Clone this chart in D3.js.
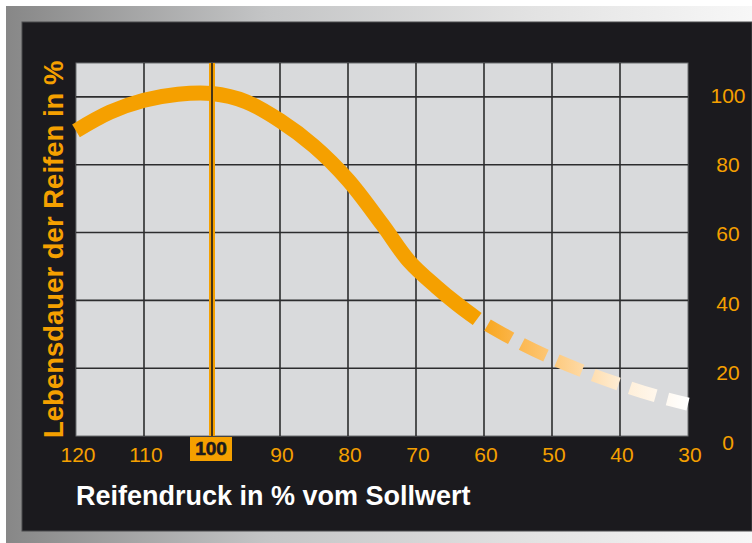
<!DOCTYPE html>
<html>
<head>
<meta charset="utf-8">
<script src="https://cdn.jsdelivr.net/npm/d3@7"></script>
<style>
    body { margin: 0; background: #fff; }
    svg { display: block; font-family: "Liberation Sans", Arial, sans-serif; }
</style>
</head>
<body>
<div id="chart"></div>
<script>
// tyre pressure (% of nominal) vs. tyre life (%)
var pressureSolid = [120, 115, 110, 105, 100, 95, 90, 85, 80, 75, 71, 67, 64, 61];
var lifeSolid = [90, 95.5, 99, 100.8, 101, 98.6, 93, 85.5, 75.5, 62.5, 51.5, 44, 39, 34.5];

// the fading, dashed continuation
var pressureFade = [61, 55, 50, 45, 40, 35, 30];
var lifeFade = [34.5, 27.7, 22.9, 18.8, 15.2, 12, 9.4];
var fadeColors = ["#f7a415", "#fbb447", "#fdc674", "#fed9a4", "#feecd2", "#fff6ea", "#ffffff"];

var xTicks = [120, 110, 90, 80, 70, 60, 50, 40, 30];
var yTicks = [0, 20, 40, 60, 80, 100];
var nominal = 100;

(function () {
    var W = 752, H = 543;
    var orange = "#f5a000";

    var svg = d3.select("#chart")
        .append("svg")
        .attr("width", W)
        .attr("height", H);

    var defs = svg.append("defs");

    var frameGrad = defs.append("linearGradient")
        .attr("id", "frame")
        .attr("x1", "0%").attr("x2", "100%");
    frameGrad.append("stop").attr("offset", "0%").attr("stop-color", "#878787");
    frameGrad.append("stop").attr("offset", "35%").attr("stop-color", "#c4c5c6");
    frameGrad.append("stop").attr("offset", "70%").attr("stop-color", "#e2e2e2");
    frameGrad.append("stop").attr("offset", "100%").attr("stop-color", "#f7f7f7");

    // metallic frame + dark panel
    svg.append("rect")
        .attr("x", 6).attr("y", 6)
        .attr("width", W - 6).attr("height", H - 6)
        .attr("fill", "url(#frame)");

    svg.append("rect")
        .attr("x", 22).attr("y", 22)
        .attr("width", W - 22).attr("height", 509)
        .attr("fill", "#1b1a1e")
        .attr("stroke", "#4a4a4c")
        .attr("stroke-width", 1);

    var plot = { left: 76, right: 688, top: 63, bottom: 436 };

    var x = d3.scaleLinear()
        .domain([120, 30])
        .range([plot.left, plot.right]);

    var y = d3.scaleLinear()
        .domain([0, 110])
        .range([plot.bottom, plot.top]);

    // plot background
    svg.append("rect")
        .attr("x", plot.left)
        .attr("y", plot.top)
        .attr("width", plot.right - plot.left)
        .attr("height", plot.bottom - plot.top)
        .attr("fill", "#d9dadc")
        .attr("stroke", "#6d6e70")
        .attr("stroke-width", 1);

    // grid
    var grid = svg.append("g").attr("class", "grid");
    grid.selectAll(".vline")
        .data(d3.range(110, 30, -10))
        .enter().append("line")
        .attr("class", "vline")
        .attr("x1", d => x(d)).attr("x2", d => x(d))
        .attr("y1", plot.top).attr("y2", plot.bottom)
        .attr("stroke", "#2c2c2e")
        .attr("stroke-width", 1.6);

    grid.selectAll(".hline")
        .data(d3.range(20, 110, 20))
        .enter().append("line")
        .attr("class", "hline")
        .attr("x1", plot.left).attr("x2", plot.right)
        .attr("y1", d => y(d)).attr("y2", d => y(d))
        .attr("stroke", "#2c2c2e")
        .attr("stroke-width", 1.6);

    var line = d3.line()
        .x(d => x(d[0]))
        .y(d => y(d[1]))
        .curve(d3.curveCatmullRom.alpha(0.5));

    var solid = pressureSolid.map((p, i) => [p, lifeSolid[i]]);
    var fade = pressureFade.map((p, i) => [p, lifeFade[i]]);

    svg.append("path")
        .datum(solid)
        .attr("d", line)
        .attr("fill", "none")
        .attr("stroke", orange)
        .attr("stroke-width", 15);

    var fx0 = x(pressureFade[0]), fx1 = x(pressureFade[pressureFade.length - 1]);
    var fadeGrad = defs.append("linearGradient")
        .attr("id", "fade")
        .attr("gradientUnits", "userSpaceOnUse")
        .attr("x1", fx0).attr("x2", fx1)
        .attr("y1", 0).attr("y2", 0);
    fadeColors.forEach((c, i) => {
        fadeGrad.append("stop")
            .attr("offset", (i / (fadeColors.length - 1) * 100) + "%")
            .attr("stop-color", c);
    });

    svg.append("path")
        .datum(fade)
        .attr("d", line)
        .attr("fill", "none")
        .attr("stroke", "url(#fade)")
        .attr("stroke-width", 13)
        .attr("stroke-dasharray", "27 12")
        .attr("stroke-dashoffset", 27);

    // nominal pressure marker
    svg.append("line")
        .attr("x1", x(nominal)).attr("x2", x(nominal))
        .attr("y1", plot.top).attr("y2", plot.bottom)
        .attr("stroke", orange)
        .attr("stroke-width", 6);
    svg.append("line")
        .attr("x1", x(nominal)).attr("x2", x(nominal))
        .attr("y1", plot.top).attr("y2", plot.bottom)
        .attr("stroke", "#1b1a1e")
        .attr("stroke-width", 1.6);

    svg.append("rect")
        .attr("x", x(nominal) - 22)
        .attr("y", plot.bottom + 1)
        .attr("width", 42)
        .attr("height", 24)
        .attr("fill", orange);
    svg.append("text")
        .attr("x", x(nominal) - 1)
        .attr("y", plot.bottom + 19)
        .attr("text-anchor", "middle")
        .attr("font-size", 19)
        .attr("font-weight", "bold")
        .attr("fill", "#1b1a1e")
        .attr("stroke", "#1b1a1e")
        .attr("stroke-width", 0.6)
        .text(nominal);

    // x tick labels
    svg.selectAll(".xlab")
        .data(xTicks)
        .enter().append("text")
        .attr("class", "xlab")
        .attr("x", d => x(d) + 2)
        .attr("y", 462)
        .attr("text-anchor", "middle")
        .attr("font-size", 21)
        .attr("fill", orange)
        .text(d => d);

    // y tick labels (right side)
    var yLab = d3.scaleLinear().domain([0, 100]).range([442, 95]);
    svg.selectAll(".ylab")
        .data(yTicks)
        .enter().append("text")
        .attr("class", "ylab")
        .attr("x", 728)
        .attr("y", d => yLab(d))
        .attr("dy", "0.36em")
        .attr("text-anchor", "middle")
        .attr("font-size", 21)
        .attr("fill", orange)
        .text(d => d);

    // titles
    svg.append("text")
        .attr("transform", "translate(63," + 438 + ") rotate(-90)")
        .attr("font-size", 27.5)
        .attr("font-weight", "bold")
        .attr("fill", orange)
        .text("Lebensdauer der Reifen in %");

    svg.append("text")
        .attr("x", plot.left)
        .attr("y", 505)
        .attr("font-size", 27)
        .attr("font-weight", "bold")
        .attr("fill", "#ffffff")
        .text("Reifendruck in % vom Sollwert");
})()
</script>
</body>
</html>
